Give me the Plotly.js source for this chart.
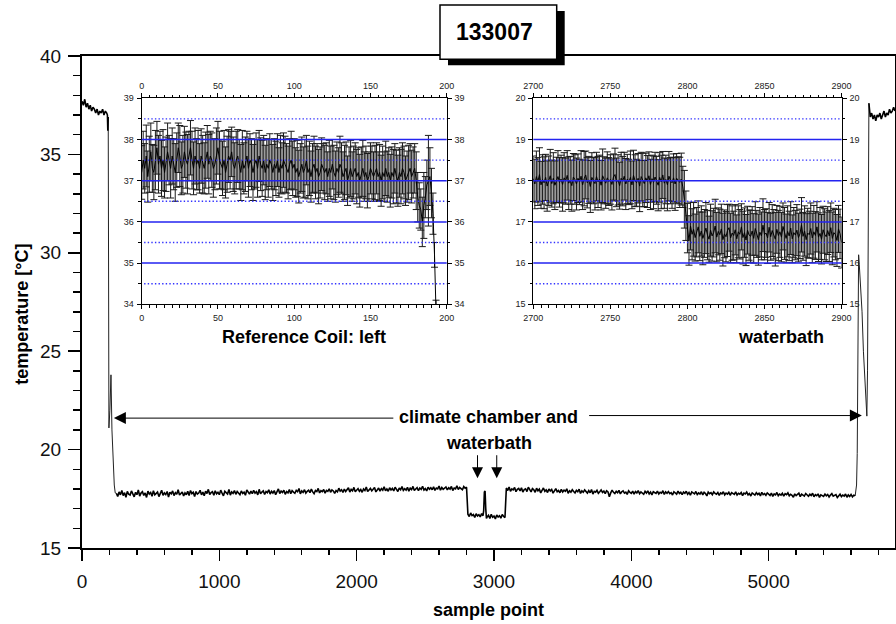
<!DOCTYPE html>
<html>
<head>
<meta charset="utf-8">
<script src="https://cdn.plot.ly/plotly-3.0.1.min.js"></script>
<style>html,body{margin:0;padding:0;background:#fff;}#chart{width:896px;height:624px;}</style>
</head>
<body>
<div id="chart"></div>
<script>
// ---------------- DATA ----------------
// Main series: temperature [°C] vs sample point
// start plateau (climate chamber, ~37 °C), sampled every 10 points from 0
const startStep = 10;
const startTemp = [37.7,37.5,37.8,37.4,37.6,37.3,37.5,37.2,37.4,37.3,37.1,37.3,37.0,37.2,37.1,37.3,37.0,37.2,37.1];
const startTailX = [185,188,191];
const startTailTemp = [37.0,36.2,36.9];
// drop into water bath
const dropX = [194,196,203,211,218,226,235,242];
const dropTemp = [30.0,21.1,22.0,23.8,21.0,19.4,18.2,17.8];
// plateau 1, every 10 points from 250
const plateau1Start = 250;
const plateau1Temp = [
17.78,17.62,17.85,17.70,17.92,17.66,17.81,17.58,17.88,17.73,
17.69,17.90,17.75,17.60,17.83,17.71,17.95,17.64,17.79,17.86,
17.67,17.80,17.57,17.89,17.74,17.82,17.63,17.91,17.70,17.77,
17.84,17.61,17.76,17.93,17.68,17.80,17.72,17.87,17.59,17.83,
17.75,17.90,17.66,17.81,17.73,17.96,17.69,17.78,17.85,17.64,
17.80,17.71,17.88,17.67,17.92,17.76,17.83,17.62,17.87,17.74,
17.79,17.93,17.70,17.84,17.66,17.89,17.77,17.98,17.72,17.81,
17.86,17.68,17.91,17.75,17.83,17.71,17.94,17.79,17.65,17.88,
17.82,17.74,17.97,17.69,17.85,17.78,17.92,17.73,17.87,17.80,
17.71,17.90,17.77,17.84,17.68,17.95,17.81,17.74,17.89,17.76,
17.93,17.79,17.86,17.70,17.98,17.75,17.84,17.90,17.72,17.87,
17.81,17.96,17.74,17.88,17.79,17.92,17.71,17.85,18.00,17.77,
17.89,17.82,17.94,17.73,17.87,17.80,17.97,17.76,17.91,17.84,
17.78,17.93,17.86,18.02,17.75,17.90,17.83,17.96,17.79,17.88,
17.94,17.81,17.99,17.85,17.76,17.92,17.87,18.03,17.80,17.91,
17.86,17.97,17.79,17.93,17.88,18.01,17.83,17.95,17.90,17.78,
17.92,17.85,18.04,17.89,17.96,17.82,17.99,17.87,17.94,18.06,
17.84,17.98,17.91,18.08,17.86,17.95,18.02,17.88,17.97,17.83,
18.00,17.92,18.10,17.87,17.96,18.03,17.90,17.99,18.07,17.85,
17.97,18.05,17.89,18.02,17.94,18.11,17.91,18.00,17.88,18.06,
17.95,18.03,17.90,18.09,17.98,17.87,18.05,17.96,18.12,17.93,
18.01,17.94,18.08,17.89,18.04,17.97,18.13,17.92,18.00,18.07,
17.91,18.05,17.98,18.14,17.95,18.02,17.90,18.09,17.99,18.06,
17.96,18.11,17.93,18.04,18.00,18.15,17.94,18.07,17.98,18.03,
18.10,17.95,18.06,17.99,18.13,17.92,18.05,18.01,18.16,17.97,
18.08,18.02,17.96,18.12,18.04,18.09];
// water bath dip, every 10 points from 2810
const dip1Start = 2810;
const dip1Temp = [16.72,16.60,16.78,16.65,16.70,16.55,16.74,16.63,16.69,16.58,16.75,16.64];
const spikeX = [2925,2930,2935,2940,2945];
const spikeTemp = [16.9,17.85,17.9,17.0,16.5];
const dip2Start = 2950;
const dip2Temp = [16.58,16.66,16.50,16.71,16.56,16.62,16.48,16.68,16.57,16.64,16.52,16.70,16.60,16.55];
// plateau 2, every 10 points from 3090
const plateau2Start = 3090;
const plateau2Temp = [
18.05,17.92,18.10,17.88,18.00,17.95,18.08,17.86,17.98,18.03,
17.90,18.06,17.84,17.97,18.01,17.87,18.09,17.93,17.85,18.02,
17.96,17.83,18.04,17.91,17.99,17.80,17.94,18.05,17.88,17.95,
17.82,18.00,17.90,17.97,17.79,17.93,18.02,17.86,17.92,17.81,
17.98,17.85,17.94,17.88,18.01,17.78,17.91,17.84,17.96,17.87,
17.80,17.93,17.86,17.99,17.77,17.90,17.83,17.95,17.85,17.79,
17.92,17.81,17.97,17.74,17.88,17.84,17.93,17.78,17.86,17.95,
17.82,17.89,17.76,17.91,17.85,17.60,17.80,17.94,17.83,17.77,
17.88,17.81,17.93,17.75,17.86,17.90,17.79,17.84,17.72,17.91,
17.83,17.78,17.89,17.74,17.87,17.80,17.92,17.76,17.85,17.81,
17.73,17.88,17.79,17.90,17.75,17.84,17.70,17.86,17.82,17.77,
17.89,17.74,17.83,17.79,17.91,17.72,17.85,17.78,17.87,17.76,
17.81,17.69,17.86,17.80,17.74,17.89,17.77,17.83,17.71,17.84,
17.78,17.88,17.73,17.82,17.68,17.85,17.79,17.75,17.87,17.72,
17.80,17.74,17.86,17.70,17.83,17.77,17.65,17.84,17.76,17.81,
17.71,17.85,17.78,17.73,17.82,17.67,17.80,17.75,17.86,17.70,
17.79,17.74,17.83,17.68,17.81,17.76,17.72,17.85,17.69,17.78,
17.73,17.82,17.66,17.79,17.75,17.84,17.70,17.77,17.64,17.80,
17.74,17.69,17.81,17.72,17.78,17.65,17.83,17.71,17.76,17.68,
17.80,17.73,17.67,17.79,17.62,17.75,17.70,17.82,17.66,17.74,
17.69,17.78,17.63,17.76,17.71,17.80,17.65,17.73,17.68,17.58,
17.75,17.66,17.72,17.79,17.61,17.74,17.69,17.64,17.77,17.70,
17.63,17.73,17.67,17.78,17.60,17.71,17.66,17.75,17.57,17.70,
17.68,17.62,17.74,17.65,17.72,17.59,17.69,17.76,17.63,17.67,
17.71,17.56,17.66,17.73,17.61,17.69,17.64,17.74,17.58,17.70,
17.62,17.72,17.60,17.68,17.65];
// rise back to climate chamber
const riseX = [5640,5645,5650,5655,5660,5665,5670,5680,5690,5700,5710,5715,5720,5725];
const riseTemp = [18.2,19.8,26.0,29.9,29.4,28.8,28.5,27.0,25.0,23.5,22.0,21.7,24.0,33.0];
// end plateau (from 5730, then every 10 points from 5740)
const endX0 = 5730, endTemp0 = 37.6;
const endStart = 5740;
const endTemp = [36.9,37.1,36.8,37.0,36.7,37.0,36.9,37.1,36.8,37.0,37.2,36.9,37.1,37.0,37.3,37.1,37.2,37.4,37.2];

// Inset 1: Reference Coil: left (sample 0..193)
const coilStart = 0;
const coilMean = [
37.2,37.5,37.3,37.6,37.1,37.4,37.7,37.3,37.2,37.5,37.8,37.4,37.6,37.3,37.5,37.2,37.4,37.7,37.5,37.3,
37.6,37.4,37.2,37.5,37.8,37.6,37.3,37.4,37.7,37.5,37.4,37.6,37.8,37.5,37.3,37.6,37.4,37.5,37.3,37.6,
37.4,37.3,37.5,37.7,37.4,37.6,37.5,37.3,37.4,37.6,37.8,37.5,37.4,37.3,37.5,37.2,37.4,37.6,37.5,37.7,
37.4,37.3,37.5,37.6,37.4,37.2,37.5,37.3,37.4,37.6,37.3,37.5,37.4,37.2,37.4,37.5,37.3,37.6,37.4,37.3,
37.5,37.2,37.4,37.3,37.5,37.4,37.2,37.4,37.3,37.5,37.2,37.4,37.3,37.5,37.4,37.3,37.2,37.4,37.5,37.3,
37.4,37.2,37.3,37.1,37.3,37.4,37.2,37.3,37.5,37.2,37.3,37.1,37.3,37.4,37.2,37.3,37.1,37.2,37.4,37.3,
37.2,37.3,37.1,37.3,37.2,37.4,37.2,37.1,37.3,37.2,37.4,37.3,37.1,37.2,37.3,37.0,37.2,37.3,37.1,37.2,
37.3,37.1,37.2,37.0,37.2,37.3,37.1,37.2,37.0,37.1,37.3,37.2,37.1,37.2,37.3,37.1,37.2,37.0,37.2,37.1,
37.3,37.1,37.2,37.0,37.2,37.1,37.3,37.1,37.0,37.2,37.1,37.3,37.2,37.0,37.1,37.2,37.3,37.1,37.2,37.3,
37.0,36.6,36.4,36.3,36.0,36.4,36.6,36.9,37.0,37.1,36.7,36.2,35.2,33.8];
const coilErr = [
.65,.7,.6,.75,.62,.68,.7,.58,.66,.72,.64,.7,.6,.68,.74,.62,.66,.7,.6,.72,
.68,.62,.7,.66,.6,.74,.64,.7,.62,.68,.72,.6,.66,.7,.64,.68,.62,.72,.6,.66,
.7,.62,.68,.64,.72,.6,.66,.7,.62,.68,.64,.7,.6,.66,.72,.62,.68,.64,.7,.6,
.66,.62,.7,.64,.6,.68,.72,.62,.66,.6,.7,.64,.62,.68,.6,.66,.7,.62,.64,.68,
.6,.66,.62,.7,.64,.6,.68,.62,.66,.64,.6,.7,.62,.66,.68,.6,.64,.62,.7,.66,
.62,.6,.68,.64,.6,.66,.62,.7,.6,.64,.66,.62,.6,.68,.64,.6,.66,.62,.64,.6,
.66,.62,.6,.68,.64,.6,.66,.62,.64,.6,.68,.62,.6,.66,.64,.6,.62,.68,.6,.64,
.62,.66,.6,.64,.62,.68,.6,.64,.66,.6,.62,.64,.6,.66,.62,.6,.68,.62,.64,.6,
.66,.62,.6,.64,.62,.66,.6,.64,.62,.6,.66,.62,.64,.6,.62,.66,.6,.64,.62,.6,
.7,.6,.55,.5,.6,.8,.5,.6,1.1,.7,.6,.5,.3,.3];

// Inset 2: waterbath (sample 2700..2900)
const bathStart = 2700;
const bathMean = [
18.05,17.92,18.10,17.98,18.15,17.90,18.03,17.95,18.08,17.87,
18.00,18.12,17.93,18.06,17.89,18.02,18.10,17.96,18.04,17.91,
18.07,17.99,18.13,17.94,18.01,17.88,18.09,18.03,17.92,18.06,
17.97,18.11,17.90,18.05,18.14,17.95,18.02,17.86,18.08,18.00,
17.93,18.10,17.97,18.04,17.89,18.12,18.01,17.94,18.07,17.98,
18.03,17.91,18.09,18.15,17.96,18.02,17.88,18.06,17.99,18.11,
17.92,18.04,17.97,18.08,17.90,18.13,18.00,17.95,18.06,17.87,
18.10,18.02,17.93,18.07,17.98,18.12,17.91,18.05,17.96,18.09,
18.01,17.89,18.08,17.97,18.14,17.94,18.03,17.90,18.11,18.00,
17.95,18.07,17.92,18.06,18.01,17.96,18.04,
17.85,17.55,17.15,16.85,
16.55,16.90,16.70,16.82,16.62,16.75,16.88,16.65,16.78,16.60,
16.72,16.85,16.68,16.58,16.80,16.66,16.74,16.90,16.63,16.77,
16.69,16.83,16.57,16.71,16.64,16.79,16.86,16.61,16.73,16.67,
16.81,16.59,16.76,16.70,16.88,16.62,16.74,16.56,16.80,16.68,
16.65,16.78,16.60,16.84,16.71,16.57,16.75,16.66,16.92,16.69,
16.73,16.61,16.87,16.64,16.79,16.70,16.58,16.82,16.67,16.76,
16.63,16.89,16.72,16.60,16.77,16.66,16.85,16.59,16.74,16.68,
16.80,16.62,16.71,16.93,16.65,16.78,16.57,16.73,16.69,16.84,
16.61,16.76,16.67,16.88,16.63,16.72,16.58,16.81,16.70,16.64,
16.79,16.66,16.86,16.60,16.74,16.69,16.55,16.83,16.71,16.50];
const bathErr = [
.55,.6,.62,.58,.65,.57,.6,.63,.56,.61,.6,.64,.57,.62,.59,.55,.63,.6,.58,.65,
.61,.56,.6,.64,.58,.62,.57,.6,.63,.59,.55,.62,.6,.66,.58,.61,.57,.63,.6,.56,
.64,.59,.62,.58,.6,.65,.57,.61,.63,.58,.6,.62,.56,.64,.59,.61,.57,.63,.6,.58,
.62,.6,.55,.64,.58,.61,.63,.57,.6,.62,.59,.65,.56,.6,.63,.58,.61,.57,.64,.6,
.58,.62,.6,.65,.57,.61,.59,.63,.6,.56,.62,.58,.64,.6,.57,.61,.63,
.5,.7,.6,.6,
.6,.58,.62,.65,.57,.6,.63,.59,.61,.64,.58,.62,.6,.56,.63,.61,.59,.65,.6,.57,
.62,.6,.64,.58,.61,.63,.57,.6,.66,.59,.61,.58,.63,.6,.56,.64,.6,.62,.58,.61,
.63,.59,.6,.65,.57,.62,.6,.58,.64,.61,.59,.62,.6,.57,.63,.6,.65,.58,.61,.62,
.6,.57,.63,.59,.62,.6,.64,.58,.61,.6,.62,.59,.6,.66,.58,.61,.63,.6,.57,.62,
.6,.64,.58,.61,.59,.63,.6,.57,.62,.6,.58,.62,.6,.64,.59,.61,.63,.57,.6,.62];

// Inset grid levels (solid at whole degrees, dotted at half degrees)
const coilGridSolid = [35,36,37,38];
const coilGridDot = [34.5,35.5,36.5,37.5,38.5];
const bathGridSolid = [16,17,18,19];
const bathGridDot = [15.5,16.5,17.5,18.5,19.5];

// Texts
const mainTitle = '133007';
const xTitle = 'sample point';
const yTitle = 'temperature [°C]';
const inset1Title = 'Reference Coil: left';
const inset2Title = 'waterbath';
const arrowText1 = 'climate chamber and';
const arrowText2 = 'waterbath';

// ---------------- BUILD ----------------
function seq(start, step, n){ const a=[]; for(let i=0;i<n;i++) a.push(start+i*step); return a; }
const last = a => a[a.length-1];

// noisy segments (thicker line)
const seg1X = seq(0,startStep,startTemp.length).concat(startTailX);
const seg1Y = startTemp.concat(startTailTemp);
const seg2X = [].concat(seq(plateau1Start,10,plateau1Temp.length), seq(dip1Start,10,dip1Temp.length), spikeX,
                        seq(dip2Start,10,dip2Temp.length), seq(plateau2Start,10,plateau2Temp.length));
const seg2Y = [].concat(plateau1Temp, dip1Temp, spikeTemp, dip2Temp, plateau2Temp);
const seg3X = [endX0].concat(seq(endStart,10,endTemp.length));
const seg3Y = [endTemp0].concat(endTemp);
// fast transitions (thin line), joined to neighbouring segments
const tr1X = [last(seg1X)].concat(dropX, [seg2X[0]]);
const tr1Y = [last(seg1Y)].concat(dropTemp, [seg2Y[0]]);
const tr2X = [last(seg2X)].concat(riseX, [seg3X[0]]);
const tr2Y = [last(seg2Y)].concat(riseTemp, [seg3Y[0]]);

const FONT = 'Liberation Sans, Arial, Helvetica, sans-serif';
const BLUE = 'rgb(35,35,240)';
const BLUE_DOT = 'rgb(50,50,255)';

const mainLine = {color:'#000', width:1.6};
const thinLine = {color:'#222', width:1};
const traces = [
  {x: tr1X, y: tr1Y, type:'scatter', mode:'lines', line:thinLine, xaxis:'x', yaxis:'y', hoverinfo:'skip'},
  {x: tr2X, y: tr2Y, type:'scatter', mode:'lines', line:thinLine, xaxis:'x', yaxis:'y', hoverinfo:'skip'},
  {x: seg1X, y: seg1Y, type:'scatter', mode:'lines', line:mainLine, xaxis:'x', yaxis:'y', hoverinfo:'skip'},
  {x: seg2X, y: seg2Y, type:'scatter', mode:'lines', line:mainLine, xaxis:'x', yaxis:'y', hoverinfo:'skip'},
  {x: seg3X, y: seg3Y, type:'scatter', mode:'lines', line:mainLine, xaxis:'x', yaxis:'y', hoverinfo:'skip'},
  {x: seq(coilStart,1,coilMean.length), y: coilMean, type:'scatter', mode:'lines', line:{color:'#000', width:1},
   error_y:{type:'data', array: coilErr, visible:true, color:'#1a1a1a', thickness:1, width:3.5},
   xaxis:'x2', yaxis:'y2', hoverinfo:'skip'},
  {x: seq(bathStart,1,bathMean.length), y: bathMean, type:'scatter', mode:'lines', line:{color:'#000', width:1},
   error_y:{type:'data', array: bathErr, visible:true, color:'#1a1a1a', thickness:1, width:3.5},
   xaxis:'x4', yaxis:'y4', hoverinfo:'skip'},
  {x:[null], y:[null], xaxis:'x3', yaxis:'y2', mode:'lines', hoverinfo:'skip'},
  {x:[null], y:[null], xaxis:'x2', yaxis:'y3', mode:'lines', hoverinfo:'skip'},
  {x:[null], y:[null], xaxis:'x5', yaxis:'y4', mode:'lines', hoverinfo:'skip'},
  {x:[null], y:[null], xaxis:'x4', yaxis:'y5', mode:'lines', hoverinfo:'skip'}
];

function insetX(domain, range, anchor, extra){
  return Object.assign({domain, range, anchor, dtick:50, tick0:range[0], ticks:'outside', ticklen:4, tickwidth:1, tickcolor:'#000',
    showline:true, linecolor:'#000', linewidth:1, showgrid:false, zeroline:false,
    tickfont:{size:9, color:'#222', family:FONT}, ticklabelstandoff:1,
    minor:{dtick:5, ticks:'outside', ticklen:2.5, tickwidth:1, tickcolor:'#000'}}, extra||{});
}
function insetY(domain, range, anchor, extra){
  return Object.assign({domain, range, anchor, dtick:1, ticks:'outside', ticklen:4, tickwidth:1, tickcolor:'#000',
    showline:true, linecolor:'#000', linewidth:1, zeroline:false, showgrid:false,
    tickfont:{size:9, color:'#222', family:FONT}, ticklabelstandoff:1,
    minor:{dtick:0.5, ticks:'outside', ticklen:2.5, tickwidth:1, tickcolor:'#000', showgrid:false}}, extra||{});
}

const d1x = [0.0734, 0.4486], d2x = [0.5551, 0.9343], dy = [0.4953, 0.914];
const PX = v => (v-82)/813, PY = v => (548-v)/492;

const shapes = [
  {type:'rect', xref:'paper', yref:'paper', x0:PX(448), x1:PX(564.7), y0:PY(65.3), y1:PY(11), fillcolor:'#000', line:{width:0}, layer:'above'},
  {type:'rect', xref:'paper', yref:'paper', x0:PX(440), x1:PX(556.7), y0:PY(59.3), y1:PY(5), fillcolor:'#fff', line:{width:1.5, color:'#000'}, layer:'above'}
];
function addGrid(xref, yref, solid, dotted){
  solid.forEach(v => shapes.push({type:'line', xref:xref+' domain', yref:yref, x0:0, x1:1, y0:v, y1:v, line:{color:BLUE, width:1.5}, layer:'above'}));
  dotted.forEach(v => shapes.push({type:'line', xref:xref+' domain', yref:yref, x0:0.008, x1:1, y0:v, y1:v, line:{color:BLUE_DOT, width:1.4, dash:'1.4px,2.2px'}, layer:'above'}));
}
addGrid('x2','y2', coilGridSolid, coilGridDot);
addGrid('x4','y4', bathGridSolid, bathGridDot);

const layout = {
  width:896, height:624,
  margin:{l:82, r:1, t:56, b:76, pad:0},
  paper_bgcolor:'#fff', plot_bgcolor:'rgba(0,0,0,0)',
  showlegend:false,
  font:{family:FONT, color:'#000'},
  xaxis:{domain:[0,1], range:[0,5920], anchor:'y', dtick:1000, tick0:0, ticks:'outside', ticklen:11, tickwidth:1.5, tickcolor:'#000',
    showline:true, linewidth:2, linecolor:'#000', mirror:true, showgrid:false, zeroline:false,
    tickfont:{size:19, family:FONT, color:'#111'}, ticklabelstandoff:4,
    minor:{dtick:200, ticks:'outside', ticklen:5, tickwidth:1.5, tickcolor:'#000'}},
  yaxis:{domain:[0,1], range:[15,40], anchor:'x', dtick:5, tick0:15, ticks:'outside', ticklen:12, tickwidth:1.5, tickcolor:'#000',
    showline:true, linewidth:2, linecolor:'#000', mirror:'ticks', showgrid:false, zeroline:false,
    tickfont:{size:19, family:FONT, color:'#111'}, ticklabelstandoff:3,
    minor:{dtick:1, ticks:'outside', ticklen:7, tickwidth:1.5, tickcolor:'#000'}},
  xaxis2: insetX(d1x, [0,200], 'y2'),
  xaxis3: insetX(d1x, [0,200], 'y2', {overlaying:'x2', side:'top'}),
  yaxis2: insetY(dy, [34,39], 'x2'),
  yaxis3: insetY(dy, [34,39], 'x2', {overlaying:'y2', side:'right'}),
  xaxis4: insetX(d2x, [2700,2900], 'y4'),
  xaxis5: insetX(d2x, [2700,2900], 'y4', {overlaying:'x4', side:'top'}),
  yaxis4: insetY(dy, [15,20], 'x4'),
  yaxis5: insetY(dy, [15,20], 'x4', {overlaying:'y4', side:'right'}),
  shapes: shapes,
  annotations:[
    {xref:'paper', yref:'paper', x:PX(494), y:PY(32), text:'<b>'+mainTitle+'</b>', showarrow:false, font:{size:23, family:FONT, color:'#000'}, xanchor:'center', yanchor:'middle'},
    {xref:'paper', yref:'paper', x:0.5, y:PY(610), text:'<b>'+xTitle+'</b>', showarrow:false, font:{size:18, family:FONT}, xanchor:'center', yanchor:'middle'},
    {xref:'paper', yref:'paper', x:PX(21.7), y:PY(314), text:'<b>'+yTitle+'</b>', showarrow:false, textangle:-90, font:{size:18, family:FONT}, xanchor:'center', yanchor:'middle'},
    {xref:'paper', yref:'paper', x:PX(304), y:PY(337), text:'<b>'+inset1Title+'</b>', showarrow:false, font:{size:18, family:FONT}, xanchor:'center', yanchor:'middle'},
    {xref:'paper', yref:'paper', x:PX(781), y:PY(337), text:'<b>'+inset2Title+'</b>', showarrow:false, font:{size:18, family:FONT}, xanchor:'center', yanchor:'middle'},
    {xref:'x', yref:'y', x:2960, y:21.68, text:'<b>'+arrowText1+'</b>', showarrow:false, font:{size:18, family:FONT}, xanchor:'center', yanchor:'middle'},
    {xref:'x', yref:'y', x:2960, y:20.33, text:'<b>'+arrowText2+'</b>', showarrow:false, font:{size:18, family:FONT}, xanchor:'center', yanchor:'middle'},
    {xref:'x', yref:'y', axref:'x', ayref:'y', x:232, y:21.6, ax:2278, ay:21.6, text:'', showarrow:true, arrowhead:2, arrowsize:2.4, arrowwidth:1, arrowcolor:'#000', standoff:0, startstandoff:0},
    {xref:'x', yref:'y', axref:'x', ayref:'y', x:5679, y:21.73, ax:3682, ay:21.73, text:'', showarrow:true, arrowhead:2, arrowsize:2.4, arrowwidth:1, arrowcolor:'#000', standoff:0, startstandoff:0},
    {xref:'x', yref:'y', axref:'x', ayref:'y', x:2880, y:18.55, ax:2880, ay:19.79, text:'', showarrow:true, arrowhead:2, arrowsize:2.2, arrowwidth:1, arrowcolor:'#000', standoff:0},
    {xref:'x', yref:'y', axref:'x', ayref:'y', x:3020, y:18.55, ax:3020, ay:19.79, text:'', showarrow:true, arrowhead:2, arrowsize:2.2, arrowwidth:1, arrowcolor:'#000', standoff:0}
  ]
};

Plotly.newPlot('chart', traces, layout, {staticPlot:true, displayModeBar:false});
</script>
</body>
</html>
